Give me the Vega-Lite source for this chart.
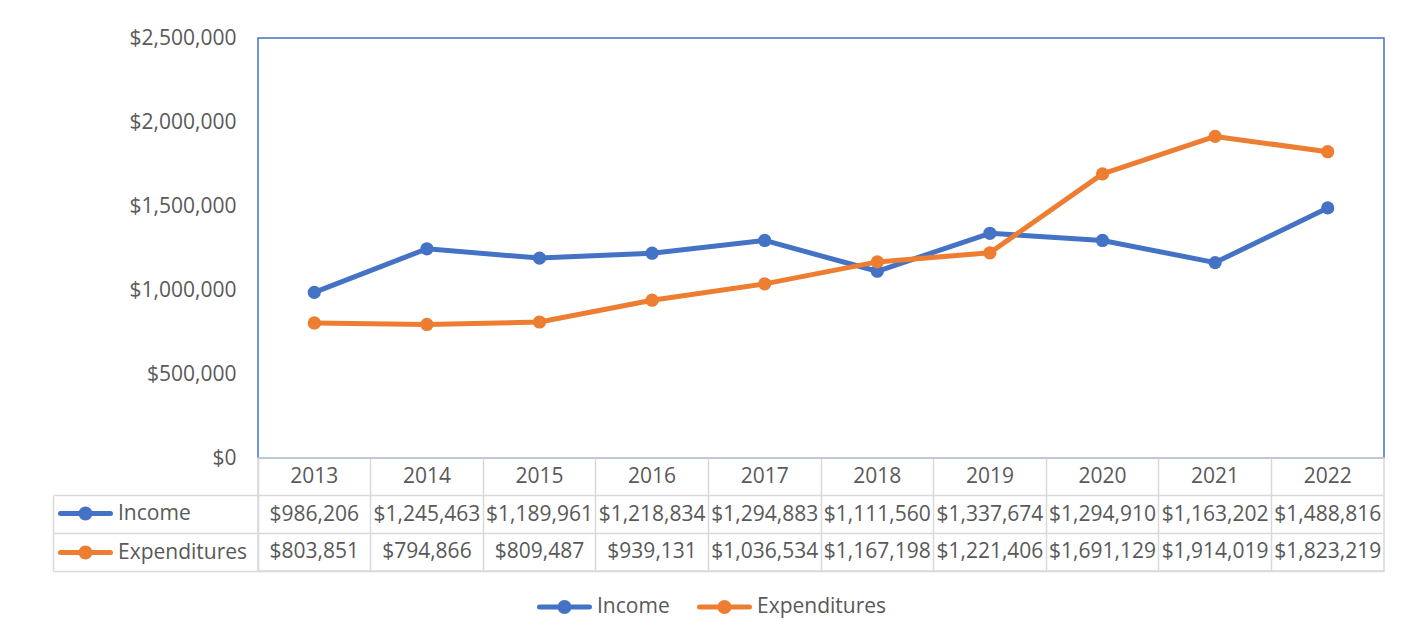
{
  "$schema": "https://vega.github.io/schema/vega-lite/v6.json",
  "background": "white",
  "padding": {"left": 51, "top": 26, "right": 0, "bottom": 0},
  "spacing": 0,
  "bounds": "flush",
  "config": {
    "font": "Open Sans",
    "axis": {"labelFont": "Open Sans", "labelFontSize": 21, "labelColor": "#595959"},
    "legend": {"labelFont": "Open Sans", "labelFontSize": 21, "labelColor": "#595959", "padding": 0, "offset": 0}
  },
  "datasets": {
    "fin": [
      {"year": "2013", "series": "Income", "value": 986206},
      {"year": "2014", "series": "Income", "value": 1245463},
      {"year": "2015", "series": "Income", "value": 1189961},
      {"year": "2016", "series": "Income", "value": 1218834},
      {"year": "2017", "series": "Income", "value": 1294883},
      {"year": "2018", "series": "Income", "value": 1111560},
      {"year": "2019", "series": "Income", "value": 1337674},
      {"year": "2020", "series": "Income", "value": 1294910},
      {"year": "2021", "series": "Income", "value": 1163202},
      {"year": "2022", "series": "Income", "value": 1488816},
      {"year": "2013", "series": "Expenditures", "value": 803851},
      {"year": "2014", "series": "Expenditures", "value": 794866},
      {"year": "2015", "series": "Expenditures", "value": 809487},
      {"year": "2016", "series": "Expenditures", "value": 939131},
      {"year": "2017", "series": "Expenditures", "value": 1036534},
      {"year": "2018", "series": "Expenditures", "value": 1167198},
      {"year": "2019", "series": "Expenditures", "value": 1221406},
      {"year": "2020", "series": "Expenditures", "value": 1691129},
      {"year": "2021", "series": "Expenditures", "value": 1914019},
      {"year": "2022", "series": "Expenditures", "value": 1823219}
    ]
  },
  "resolve": {
    "scale": {"x": "independent", "y": "independent", "color": "independent"},
    "legend": {"color": "independent"}
  },
  "vconcat": [
    {
      "width": 1126,
      "height": 420,
      "view": {"stroke": "#4472C4", "strokeWidth": 1.5},
      "data": {"name": "fin"},
      "encoding": {
        "x": {"field": "year", "type": "ordinal", "scale": {"type": "point", "padding": 0.5}, "axis": null},
        "y": {
          "field": "value", "type": "quantitative",
          "scale": {"domain": [0, 2500000], "nice": false},
          "axis": {"values": [0, 500000, 1000000, 1500000, 2000000, 2500000], "format": "$,.0f", "grid": false, "domain": false, "ticks": false, "tickSize": 0, "labelPadding": 22, "title": null}
        },
        "color": {
          "field": "series", "type": "nominal",
          "scale": {"domain": ["Income", "Expenditures"], "range": ["#4472C4", "#ED7D31"]},
          "legend": {
            "title": null, "orient": "none", "direction": "horizontal",
            "legendX": 278, "legendY": 558,
            "symbolType": "M-1,0L6.14,0M2.57,-0.643A0.643,0.643 0 1,1 2.57,0.643A0.643,0.643 0 1,1 2.57,-0.643Z",
            "symbolSize": 196, "symbolStrokeWidth": 5,
            "labelOffset": 40, "columnPadding": 19,
            "encode": {"symbols": {"update": {
              "fill": [{"test": "datum.value === 'Income'", "value": "#4472C4"}, {"value": "#ED7D31"}],
              "stroke": [{"test": "datum.value === 'Income'", "value": "#4472C4"}, {"value": "#ED7D31"}],
              "strokeCap": {"value": "round"},
              "opacity": {"value": 1}
            }}}
          }
        }
      },
      "layer": [
        {"mark": {"type": "line", "strokeWidth": 5, "strokeCap": "round", "strokeJoin": "round"}},
        {"mark": {"type": "circle", "size": 175, "opacity": 1}}
      ]
    },
    {
      "width": 1126,
      "height": 113,
      "view": {"stroke": "#d9d9d9", "strokeWidth": 1.5},
      "data": {"name": "fin"},
      "resolve": {"axis": {"y": "independent"}},
      "encoding": {
        "x": {
          "field": "year", "type": "ordinal",
          "scale": {"type": "band", "paddingInner": 0, "paddingOuter": 0},
          "axis": {"orient": "top", "bandPosition": 0, "grid": true, "gridColor": "#d9d9d9", "gridWidth": 1.5, "ticks": false, "labels": false, "domain": false, "title": null}
        }
      },
      "layer": [
        {
          "transform": [{"filter": "datum.series === 'Income'"}],
          "mark": {"type": "text", "fontSize": 21, "color": "#595959", "font": "Open Sans"},
          "encoding": {
            "y": {"datum": "Year", "type": "nominal", "scale": {"type": "band", "domain": ["Year", "Income", "Expenditures"], "paddingInner": 0, "paddingOuter": 0}, "axis": null},
            "text": {"field": "year", "type": "nominal"}
          }
        },
        {
          "mark": {"type": "text", "fontSize": 21, "color": "#595959", "font": "Open Sans"},
          "encoding": {
            "y": {
              "field": "series", "type": "nominal",
              "scale": {"type": "band", "domain": ["Year", "Income", "Expenditures"], "paddingInner": 0, "paddingOuter": 0},
              "axis": {"orient": "left", "values": ["Year", "Income", "Expenditures"], "bandPosition": 1, "grid": true, "gridColor": "#d9d9d9", "gridWidth": 1.5, "ticks": true, "tickSize": 205, "tickColor": "#d9d9d9", "tickWidth": 1.5, "labels": false, "domain": false, "title": null}
            },
            "text": {"field": "value", "type": "quantitative", "format": "$,.0f"}
          }
        },
        {
          "mark": {"type": "point", "filled": true, "opacity": 0},
          "encoding": {
            "y": {
              "field": "series", "type": "nominal",
              "scale": {"type": "band", "domain": ["Year", "Income", "Expenditures"], "paddingInner": 0, "paddingOuter": 0},
              "axis": {"orient": "left", "offset": 205, "domain": true, "domainColor": "#d9d9d9", "domainWidth": 1.5, "domainDash": [75.33, 37.67], "domainDashOffset": 75.33, "ticks": false, "labels": false, "grid": false, "title": null}
            },
            "color": {
              "field": "series", "type": "nominal",
              "scale": {"domain": ["Income", "Expenditures"], "range": ["#4472C4", "#ED7D31"]},
              "legend": {
                "title": null, "orient": "none", "direction": "vertical",
                "legendX": -201, "legendY": 45,
                "symbolType": "M-1,0L6.14,0M2.57,-0.643A0.643,0.643 0 1,1 2.57,0.643A0.643,0.643 0 1,1 2.57,-0.643Z",
                "symbolSize": 196, "symbolStrokeWidth": 5,
                "labelOffset": 40, "rowPadding": 8,
                "encode": {"symbols": {"update": {
                  "fill": [{"test": "datum.value === 'Income'", "value": "#4472C4"}, {"value": "#ED7D31"}],
                  "stroke": [{"test": "datum.value === 'Income'", "value": "#4472C4"}, {"value": "#ED7D31"}],
                  "strokeCap": {"value": "round"},
                  "opacity": {"value": 1}
                }}}
              }
            }
          }
        }
      ]
    }
  ]
}
